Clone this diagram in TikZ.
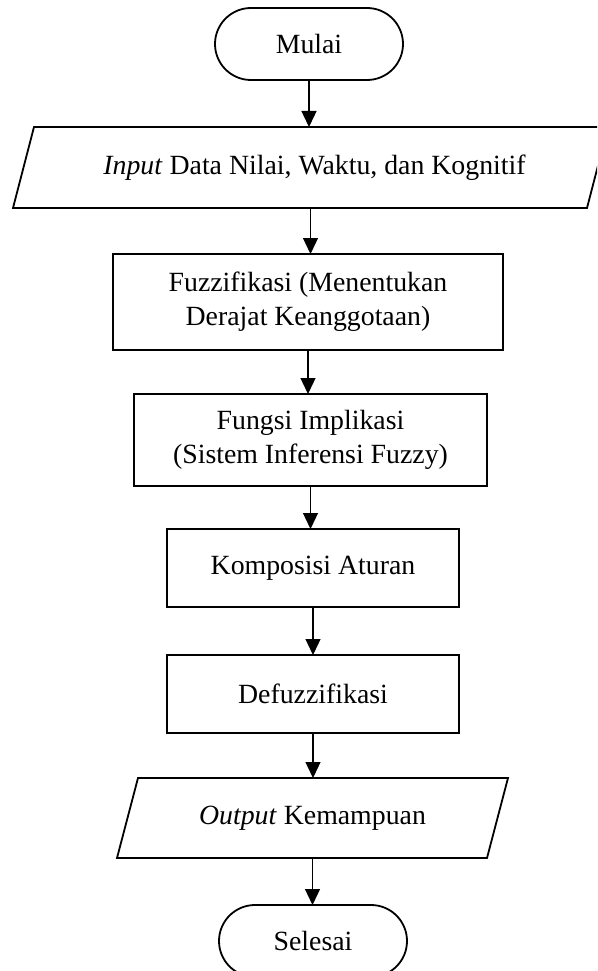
\documentclass[tikz,border=0pt]{standalone}
\usepackage{fontspec}
\setmainfont{Liberation Serif}[Ligatures=CommonOff]
\usetikzlibrary{arrows.meta}
\tikzset{
  txt/.style={font=\fontsize{27.8pt}{34pt}\selectfont, align=center, inner sep=0pt, outer sep=0pt},
  procbox/.style={txt, draw, line width=1.8pt, minimum width=#1},
  term/.style={txt, draw, line width=1.8pt, minimum width=188pt, minimum height=72pt, rounded corners=36pt},
  iobox/.style={txt, minimum width=#1, minimum height=81pt},
  ioline/.style={line width=1.8pt, line join=miter},
  arr/.style={line width=1.3pt, -{Triangle[length=16pt,width=15pt]}},
}
\begin{document}
\begin{tikzpicture}[x=1pt,y=-1pt]
\useasboundingbox (0,0) rectangle (597,971);
\clip (0,0) rectangle (597,971);
\node[term] (start) at (309,44) {Mulai};
\node[iobox=574pt] (in) at (310.5,167.5) {\hspace*{8pt}\textit{Input} Data Nilai, Waktu, dan Kognitif};
\draw[ioline] ([xshift=10.5pt]in.north west) -- ([xshift=10.5pt]in.north east) -- ([xshift=-10.5pt]in.south east) -- ([xshift=-10.5pt]in.south west) -- cycle;
\node[procbox=390pt, minimum height=96pt] (fuz) at (308,302) {Fuzzifikasi (Menentukan\\Derajat Keanggotaan)};
\node[procbox=353pt, minimum height=92pt] (imp) at (310.5,440) {Fungsi Implikasi\\(Sistem Inferensi Fuzzy)};
\node[procbox=292pt, minimum height=78pt] (kom) at (313,568) {Komposisi Aturan};
\node[procbox=292pt, minimum height=78pt] (def) at (313,694) {Defuzzifikasi};
\node[iobox=370pt, minimum height=80pt] (out) at (312.5,818) {\textit{Output} Kemampuan};
\draw[ioline] ([xshift=10.5pt]out.north west) -- ([xshift=10.5pt]out.north east) -- ([xshift=-10.5pt]out.south east) -- ([xshift=-10.5pt]out.south west) -- cycle;
\node[term] (end) at (313,941) {Selesai};
\draw[arr] (start.south) -- (start.south |- in.north);
\draw[arr] (in.south) -- (in.south |- fuz.north);
\draw[arr] (fuz.south) -- (fuz.south |- imp.north);
\draw[arr] (imp.south) -- (imp.south |- kom.north);
\draw[arr] (kom.south) -- (kom.south |- def.north);
\draw[arr] (def.south) -- (def.south |- out.north);
\draw[arr] (out.south) -- (out.south |- end.north);
\end{tikzpicture}
\end{document}
